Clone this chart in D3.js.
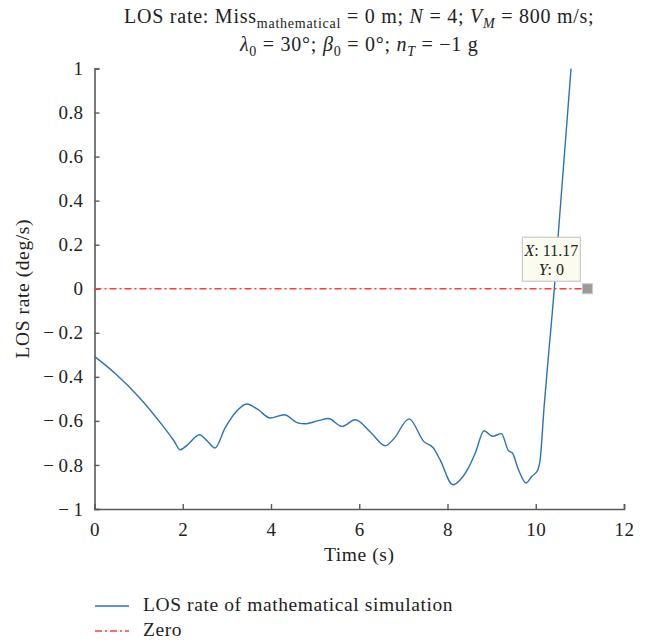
<!DOCTYPE html>
<html>
<head>
<meta charset="utf-8">
<script src="https://cdn.jsdelivr.net/npm/d3@7/dist/d3.min.js"></script>
<style>
  html, body { margin: 0; padding: 0; background: #fff; }
  svg { display: block; }
  svg text { font-family: "Liberation Serif", "DejaVu Serif", serif; }
</style>
</head>
<body>
<svg id="chart" width="649" height="640"></svg>
<script>
// LOS rate time history (s, deg/s)
const timeS = [0, 0.5, 1.0, 1.5, 1.8, 1.94, 2.1, 2.38, 2.55, 2.73, 2.96, 3.22, 3.45, 3.71, 3.98, 4.30,
  4.62, 4.77, 5.07, 5.30, 5.61, 5.91, 6.25, 6.59, 6.78, 7.13, 7.46, 7.68, 7.83, 8.12, 8.29, 8.48,
  8.63, 8.83, 9.02, 9.22, 9.38, 9.47, 9.61, 9.78, 9.91, 10.04, 10.10, 10.19, 10.29, 10.42,
  10.50, 10.80];
const losRate = [-0.307, -0.39, -0.49, -0.61, -0.69, -0.731, -0.71, -0.663, -0.69, -0.723, -0.632,
  -0.556, -0.523, -0.549, -0.587, -0.572, -0.610, -0.613, -0.599, -0.589, -0.625, -0.595, -0.65,
  -0.713, -0.682, -0.591, -0.693, -0.723, -0.776, -0.890, -0.867, -0.811, -0.746, -0.645, -0.670,
  -0.658, -0.735, -0.746, -0.822, -0.882, -0.852, -0.825, -0.776, -0.534, -0.30, 0.0,
  0.22, 1.0];

// Zero reference line
const zeroT = [0, 11.17];
const zeroV = [0, 0];

// Data tip
const tipX = 11.17;
const tipY = 0;

const xTicks = [0, 2, 4, 6, 8, 10, 12];
const yTicks = [-1, -0.8, -0.6, -0.4, -0.2, 0, 0.2, 0.4, 0.6, 0.8, 1];

const seriesNames = ["LOS rate of mathematical simulation", "Zero"];
const colors = { los: "#2b72b8", zero: "#ff3b3b", axis: "#5a5a5a", text: "#222" };

const serif = "'Liberation Serif', 'DejaVu Serif', serif";
const svg = d3.select("#chart");
const m = { left: 94.5, right: 624, top: 68.5, bottom: 509 };

const x = d3.scaleLinear().domain([0, 12]).range([m.left, m.right]);
const y = d3.scaleLinear().domain([-1, 1]).range([m.bottom, m.top]);

// Typeset minus with a thin space after it
const fmt = v => (v === 0 ? "0" : (v < 0 ? "\u2212\u2009" : "") + d3.format("~g")(Math.abs(v)));

// Axes with inward ticks
const gx = svg.append("g").attr("transform", `translate(0,${m.bottom})`)
  .call(d3.axisBottom(x).tickValues(xTicks).tickSize(-5).tickPadding(11).tickFormat(fmt));
const gy = svg.append("g").attr("transform", `translate(${m.left},0)`)
  .call(d3.axisLeft(y).tickValues(yTicks).tickSize(-5).tickPadding(11).tickFormat(fmt));

[gx, gy].forEach(g => {
  g.attr("font-family", serif).attr("font-size", 19);
  g.select(".domain").attr("stroke", colors.axis).attr("stroke-width", 1.6);
  g.selectAll(".tick line").attr("stroke", colors.axis).attr("stroke-width", 1.4);
  g.selectAll(".tick text").attr("fill", colors.text).style("letter-spacing", "0.4px");
});
gx.selectAll(".tick text").attr("dy", "0.85em");

// Zero line
const zeroData = zeroT.map((t, i) => [t, zeroV[i]]);
svg.append("path").datum(zeroData)
  .attr("fill", "none").attr("stroke", colors.zero).attr("stroke-width", 1.3)
  .attr("stroke-dasharray", "7,3,2,3")
  .attr("d", d3.line().x(d => x(d[0])).y(d => y(d[1])));

// LOS rate curve
const losData = timeS.map((t, i) => [t, losRate[i]]);
svg.append("path").datum(losData)
  .attr("fill", "none").attr("stroke", colors.los).attr("stroke-width", 1.4)
  .attr("d", d3.line().x(d => x(d[0])).y(d => y(d[1])).curve(d3.curveMonotoneX));

// Data tip marker and box
svg.append("rect")
  .attr("x", x(tipX) - 5).attr("y", y(tipY) - 5).attr("width", 10).attr("height", 10)
  .attr("fill", "#9a9a9c").attr("stroke", "#c8c8c8").attr("stroke-width", 1);
const tip = svg.append("g").attr("transform", `translate(${x(tipX) - 65},${y(tipY) - 51.5})`);
tip.append("rect").attr("width", 58).attr("height", 44)
  .attr("fill", "#fbfbef").attr("stroke", "#c9c9c9").attr("stroke-width", 1.2);
const tipLine = (yy, name, val) => {
  const t = tip.append("text").attr("x", 29).attr("y", yy).attr("text-anchor", "middle")
    .attr("fill", colors.text).style("font-size", "16px");
  t.append("tspan").style("font-style", "italic").text(name);
  t.append("tspan").text(": " + val);
};
tipLine(19, "X", d3.format(".2f")(tipX));
tipLine(38, "Y", d3.format("~g")(tipY));

// Axis titles
svg.append("text").attr("x", (m.left + m.right) / 2).attr("y", 561)
  .attr("text-anchor", "middle").attr("fill", colors.text).style("font-size", "19.5px")
  .style("letter-spacing", "0.6px").text("Time (s)");
svg.append("text").attr("transform", `translate(29,${(m.top + m.bottom) / 2}) rotate(-90)`)
  .attr("text-anchor", "middle").attr("fill", colors.text).style("font-size", "19.5px")
  .style("letter-spacing", "0.6px").text("LOS rate (deg/s)");

// Title
const cx = (m.left + m.right) / 2;
const add = (sel, txt, opt = {}) => {
  const s = sel.append("tspan").text(txt);
  if (opt.italic) s.style("font-style", "italic");
  if (opt.sub) s.style("font-size", "14px").attr("dy", 5);
  if (opt.up) s.attr("dy", -5);
  return s;
};
const t1 = svg.append("text").attr("x", cx).attr("y", 23).attr("text-anchor", "middle")
  .attr("fill", colors.text).style("font-size", "20px").style("letter-spacing", "0.75px");
add(t1, "LOS rate: Miss");
add(t1, "mathematical", { sub: true });
add(t1, " = 0 m; ", { up: true });
add(t1, "N", { italic: true });
add(t1, " = 4; ");
add(t1, "V", { italic: true });
add(t1, "M", { italic: true, sub: true });
add(t1, " = 800 m/s;", { up: true });

const t2 = svg.append("text").attr("x", cx).attr("y", 51).attr("text-anchor", "middle")
  .attr("fill", colors.text).style("font-size", "20px").style("letter-spacing", "0.75px");
add(t2, "\u03BB", { italic: true });
add(t2, "0", { sub: true });
add(t2, " = 30\u00B0; ", { up: true });
add(t2, "\u03B2", { italic: true });
add(t2, "0", { sub: true });
add(t2, " = 0\u00B0; ", { up: true });
add(t2, "n", { italic: true });
add(t2, "T", { italic: true, sub: true });
add(t2, " = \u22121 g", { up: true });

// Legend
const legend = svg.append("g");
const legendRows = [
  { name: seriesNames[0], color: colors.los, dash: null, y: 606 },
  { name: seriesNames[1], color: colors.zero, dash: "7,3,2,3", y: 631 }
];
legendRows.forEach(r => {
  legend.append("line").attr("x1", 95).attr("x2", 129).attr("y1", r.y).attr("y2", r.y)
    .attr("stroke", r.color).attr("stroke-width", 1.4).attr("stroke-dasharray", r.dash);
  legend.append("text").attr("x", 143).attr("y", r.y + 5).attr("fill", colors.text)
    .style("font-size", "19.5px").style("letter-spacing", "0.6px").text(r.name);
});
</script>
</body>
</html>
